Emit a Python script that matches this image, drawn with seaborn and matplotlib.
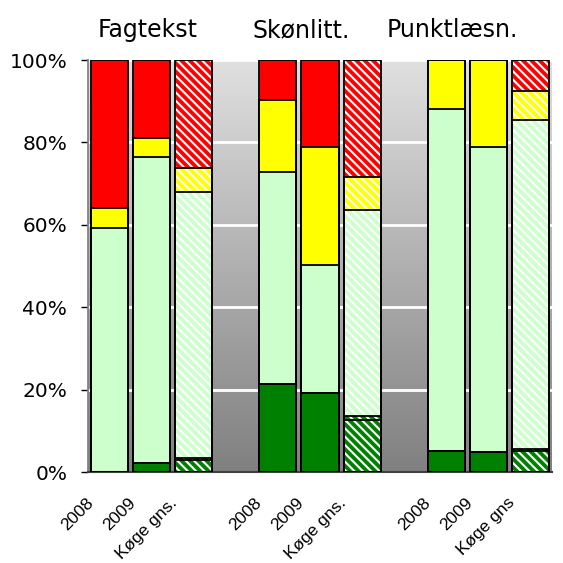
import numpy as np
import pandas as pd
import matplotlib
import matplotlib.pyplot as plt
import matplotlib.transforms as mtransforms
from matplotlib.colors import LinearSegmentedColormap
import seaborn as sns

# --- data (percent of readers per level) ---
groups = ['Fagtekst', 'Skønlitt.', 'Punktlæsn.']
bar_labels = ['2008', '2009', 'Køge gns.',
              '2008', '2009', 'Køge gns.',
              '2008', '2009', 'Køge gns']
positions = [0, 1, 2, 4, 5, 6, 8, 9, 10]
is_average = [False, False, True] * 3

dark_green = [0.0, 2.2, 2.8, 21.4, 19.2, 12.6, 5.2, 4.8, 5.0]
thin_green = [0.0, 0.0, 0.7, 0.0, 0.0, 1.0, 0.0, 0.0, 0.6]
light_green = [59.2, 74.3, 64.5, 51.5, 31.0, 50.0, 82.9, 74.2, 79.8]
yellow = [4.9, 4.6, 5.7, 17.4, 28.8, 8.0, 11.9, 21.0, 7.0]
red = [35.9, 18.9, 26.3, 9.7, 21.0, 28.4, 0.0, 0.0, 7.6]

segments = [dark_green, thin_green, light_green, yellow, red]
seg_colors = ['#008000', '#008000', '#ccffcc', '#ffff00', '#ff0000']

tops = np.cumsum(np.array(segments), axis=0)

# --- plotting ---
sns.set_theme(style='white')
plt.rcParams['font.family'] = ['DejaVu Sans']
plt.rcParams['hatch.linewidth'] = 1.5
plt.rcParams['text.color'] = 'black'
plt.rcParams['xtick.color'] = 'black'
plt.rcParams['ytick.color'] = 'black'

fig = plt.figure(figsize=(5.63, 5.63), dpi=100)
ax = fig.add_axes([0.1563, 0.1616, 0.824, 0.7318])

# grey gradient behind the bars
grad = LinearSegmentedColormap.from_list('bg', ['#808080', '#e0e0e0'])
ax.imshow(np.linspace(0, 1, 256).reshape(-1, 1), cmap=grad, origin='lower',
          extent=(-0.5, 10.5, 0, 100), aspect='auto', zorder=0)

# stacked bars drawn as overlapping cumulative bars, top segment first
for i in range(len(segments) - 1, -1, -1):
    sns.barplot(x=positions, y=tops[i], native_scale=True, color=seg_colors[i],
                width=0.88, linewidth=0, saturation=1, ax=ax, zorder=2)
    for patch, avg in zip(ax.containers[-1], is_average):
        if avg:
            patch.set_hatch('\\\\\\\\')
            patch.set_edgecolor('white')
            patch.set_linewidth(0)

# black outlines of every segment
for i in range(len(segments) - 1, -1, -1):
    sns.barplot(x=positions, y=tops[i], native_scale=True, color='black',
                fill=False, width=0.88, linewidth=1.3, ax=ax, zorder=3)

ax.set_xlim(-0.5, 10.5)
ax.set_ylim(0, 100)
ax.set_yticks([0, 20, 40, 60, 80, 100])
ax.set_yticklabels([f'{v}%' for v in [0, 20, 40, 60, 80, 100]], fontsize=14.5,
                   color='black')
ax.yaxis.grid(True, color='white', linewidth=2)
ax.set_axisbelow(True)
ax.tick_params(axis='y', length=5, width=1, color='black', left=True, pad=10)

ax.set_xticks(positions)
ax.set_xticklabels(bar_labels, family='Liberation Sans', fontsize=12.5,
                   color='black')
ax.tick_params(axis='x', length=0, pad=0)
offset = mtransforms.ScaledTranslation(-0.13, -0.23, fig.dpi_scale_trans)
for lab in ax.get_xticklabels():
    lab.set_rotation(45)
    lab.set_ha('right')
    lab.set_va('top')
    lab.set_rotation_mode('default')
    lab.set_transform(lab.get_transform() + offset)

ax.set_xlabel('')
ax.set_ylabel('')
for side in ['top', 'right']:
    ax.spines[side].set_visible(False)
ax.spines['left'].set_color('#808080')
ax.spines['bottom'].set_color('#404040')
ax.spines['bottom'].set_linewidth(1.5)

# group titles above the plot
for name, xpos in zip(groups, [0.92, 4.55, 8.13]):
    ax.text(xpos, 107.3, name, ha='center', va='center', fontsize=17,
            color='black', transform=ax.transData)

plt.savefig('out.png', dpi=100)
